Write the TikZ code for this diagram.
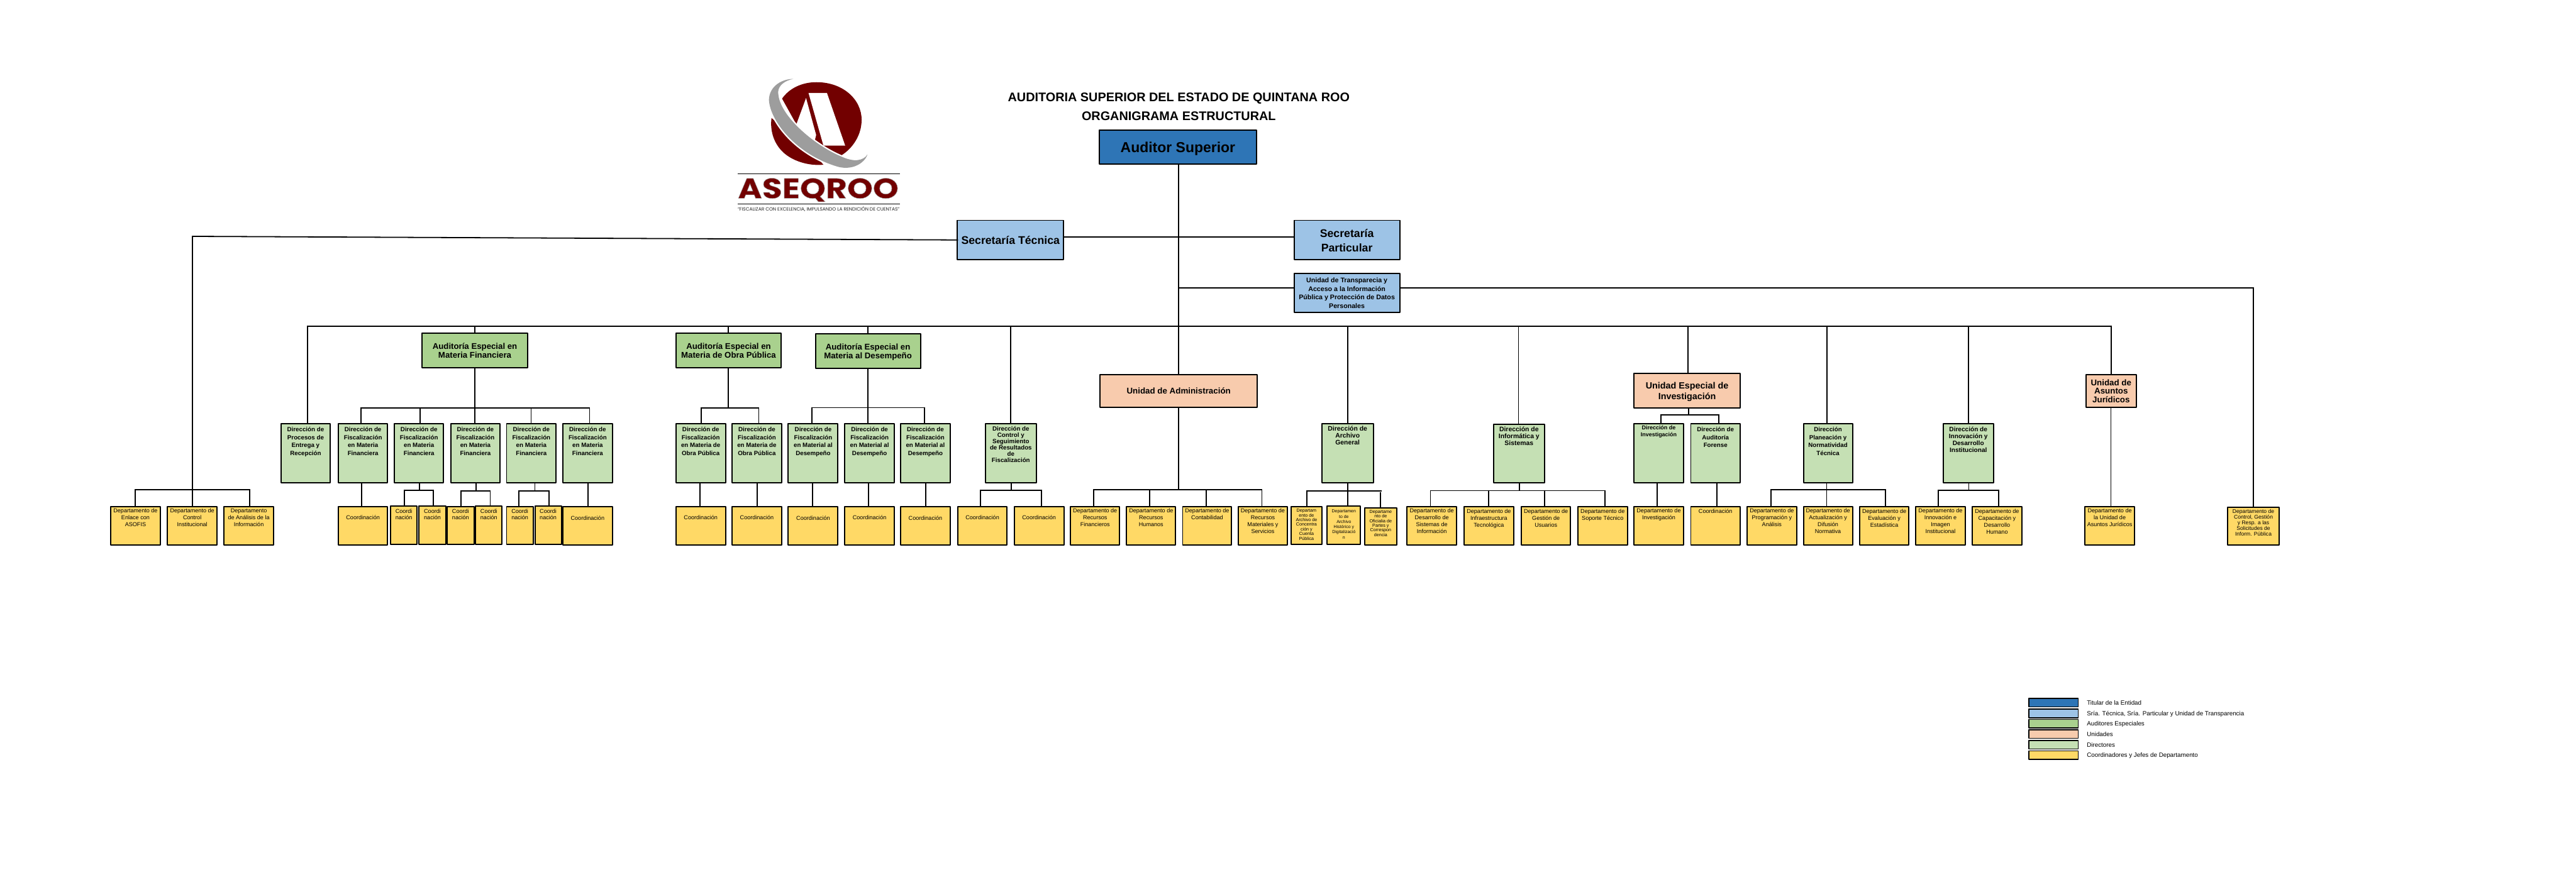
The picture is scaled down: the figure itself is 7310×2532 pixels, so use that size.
\documentclass[tikz,border=0pt]{standalone}
\usepackage{fontspec}
\setmainfont{Liberation Sans}
\newfontfamily\logofont{Poppins}
\definecolor{cblue}{HTML}{2E75B6}
\definecolor{clight}{HTML}{9DC3E6}
\definecolor{cgreen}{HTML}{A9D18E}
\definecolor{cpeach}{HTML}{F8CBAD}
\definecolor{cpale}{HTML}{C5E0B4}
\definecolor{cyel}{HTML}{FFD966}
\definecolor{logored}{HTML}{720000}
\definecolor{logogrey}{HTML}{9D9D9D}
\tikzset{
 x=0.5pt,y=0.5pt,
 boxbase/.style={draw=black,line width=1.75pt,inner sep=0pt,outer sep=0pt,line join=round,rectangle},
 bblue/.style={boxbase,fill=cblue},
 blight/.style={boxbase,fill=clight},
 bgreen/.style={boxbase,fill=cgreen},
 bpeach/.style={boxbase,fill=cpeach},
 bpale/.style={boxbase,fill=cpale},
 byel/.style={boxbase,fill=cyel},
 bleg/.style={line width=1.3pt},
 conn/.style={draw=black,line width=1.6pt,line cap=rect},
 lbl/.style={inner sep=0pt,outer sep=0pt,align=center,text=black},
 tdep/.style={lbl,font=\fontsize{8.1}{9.7}\selectfont},
 tcoi/.style={lbl,font=\fontsize{8.1}{8.5}\selectfont},
 tarc/.style={lbl,font=\fontsize{6.4}{6.6}\selectfont},
 tarb/.style={lbl,font=\fontsize{6.2}{7.35}\selectfont},
 tcg/.style={lbl,font=\fontsize{7.65}{8}\selectfont},
 tdir/.style={lbl,font=\fontsize{8.7}{11.5}\selectfont\bfseries},
 tctl/.style={lbl,font=\fontsize{8.7}{9}\selectfont\bfseries},
 tag/.style={lbl,font=\fontsize{9.3}{9.7}\selectfont\bfseries},
 tin/.style={lbl,font=\fontsize{8}{10}\selectfont\bfseries},
 tinn/.style={lbl,font=\fontsize{9}{9.8}\selectfont\bfseries},
 taud/.style={lbl,font=\fontsize{11.8}{12.5}\selectfont\bfseries},
 tunit/.style={lbl,font=\fontsize{11.9}{12.2}\selectfont\bfseries},
 tuei/.style={lbl,font=\fontsize{12.8}{15.5}\selectfont\bfseries},
 tsec/.style={lbl,font=\fontsize{15.8}{20}\selectfont\bfseries},
 ttr/.style={lbl,font=\fontsize{9.5}{12.15}\selectfont\bfseries},
 tas/.style={lbl,font=\fontsize{20.5}{24}\selectfont\bfseries},
 ttitle/.style={lbl,font=\fontsize{17.7}{20}\selectfont\bfseries},
 tleg/.style={lbl,font=\fontsize{8.75}{10}\selectfont},
}
% name x1 y1 x2 y2 boxstyle textstyle firstbaseline text
\newcommand\bx[9]{%
 \node[#6,anchor=north west,minimum width={(#4-#2)*0.5pt},minimum height={(#5-#3)*0.5pt}] (#1) at (#2,-#3) {};%
 \node[#7,anchor=north] (#1t) at ({(#2+#4)/2},{-#8+50}) {\rule{0pt}{25pt}#9};}
\newcommand\bus[4]{\coordinate (#1L) at (#3,-#2);\coordinate (#1R) at (#4,-#2);\draw[conn] (#1L) -- (#1R);}
\newcommand\dropto[3]{\coordinate (vx) at (#2,0);\draw[conn] (#1L -| vx) -- (#3.north -| vx);}
\newcommand\riser[3]{\coordinate (vx) at (#3,0);\draw[conn] (#1.south -| vx) -- (#2L -| vx);}
\newcommand\vlink[3]{\coordinate (vx) at (#3,0);\draw[conn] (#1.south -| vx) -- (#2.north -| vx);}
\begin{document}
\begin{tikzpicture}
\useasboundingbox (0,0) rectangle (7310,-2532);
% ---------- logo
\begin{scope}[xshift=1030pt,yshift=-100pt,x=0.16667pt,y=0.16667pt]
 \fill[logored] (478,-240) .. controls (540,-150) and (650,-100) .. (770,-100) .. controls (1000,-100) and (1155,-250) .. (1155,-420) .. controls (1155,-550) and (1080,-665) .. (975,-728) -- (820,-650) -- (600,-460) -- cycle;
 \fill[logored] (388,-405) .. controls (375,-500) and (400,-610) .. (480,-690) .. controls (560,-770) and (700,-815) .. (830,-803) -- (700,-650) -- (500,-500) -- cycle;
 \fill[white] (703,-192) -- (860,-192) -- (1015,-640) -- (830,-640) -- cycle;
 \fill[white] (682,-235) -- (600,-458) -- (680,-540) -- (755,-600) -- (768,-550) -- cycle;
 \filldraw[white,line width=4pt,line join=round] (575,-72) .. controls (480,-72) and (370,-130) .. (366,-250) .. controls (375,-430) and (600,-720) .. (960,-822) .. controls (1080,-850) and (1180,-790) .. (1205,-715) .. controls (1170,-770) and (1090,-785) .. (975,-730) .. controls (760,-640) and (440,-380) .. (445,-180) .. controls (447,-130) and (500,-85) .. (575,-72) -- cycle;
 \fill[logogrey] (575,-72) .. controls (480,-72) and (370,-130) .. (366,-250) .. controls (375,-430) and (600,-720) .. (960,-822) .. controls (1080,-850) and (1180,-790) .. (1205,-715) .. controls (1170,-770) and (1090,-785) .. (975,-730) .. controls (760,-640) and (440,-380) .. (445,-180) .. controls (447,-130) and (500,-85) .. (575,-72) -- cycle;
\end{scope}
\coordinate (ll1) at (2093,-494);\coordinate (lr1) at (2553,-494);
\coordinate (ll2) at (2093,-579);\coordinate (lr2) at (2553,-579);
\draw[line width=0.85pt] (ll1) -- (lr1);
\draw[line width=0.85pt] (ll2) -- (lr2);
\node[lbl,anchor=base] (logoname) at (2322,-563) {\resizebox{228pt}{28.5pt}{\logofont\bfseries\color{logored}\special{pdf:code q 2 Tr 0.12 w 0.62 0.62 0.62 RG}ASEQROO\special{pdf:code Q}}};
\node[lbl,anchor=center] (logotag) at (2323,-593) {\resizebox{229.5pt}{!}{\logofont\color{black!85}“FISCALIZAR CON EXCELENCIA, IMPULSANDO LA RENDICIÓN DE CUENTAS”}};
% ---------- title
\node[ttitle,anchor=base] (title1) at (3345,-289) {AUDITORIA SUPERIOR DEL ESTADO DE QUINTANA ROO};
\node[ttitle,anchor=base] (title2) at (3345,-341) {ORGANIGRAMA ESTRUCTURAL};
% ---------- top
\bx{as}{3119}{370}{3566}{465}{bblue}{tas}{433}{Auditor Superior}
\bx{st}{2717}{625.5}{3018}{737}{blight}{tsec}{693.5}{Secretaría Técnica}
\bx{sp}{3672}{625.5}{3972}{737}{blight}{tsec}{674}{Secretaría\\Particular}
\bx{tr}{3672}{776.5}{3972}{887}{blight}{ttr}{802.5}{Unidad de Transparecia y\\Acceso a la Información\\Pública y Protección de Datos\\Personales}
% ---------- second level
\bx{af}{1198}{945.5}{1497}{1044}{bgreen}{taud}{991.5}{Auditoría Especial en\\Materia Financiera}
\bx{ao}{1918}{945.5}{2217}{1044}{bgreen}{taud}{991.5}{Auditoría Especial en\\Materia de Obra Pública}
\bx{ad}{2314}{948}{2612}{1046.5}{bgreen}{taud}{994}{Auditoría Especial en\\Materia al Desempeño}
\bx{ua}{3121.5}{1063}{3568}{1156}{bpeach}{tunit}{1118}{Unidad de Administración}
\bx{uei}{4637}{1060.5}{4938}{1157.5}{bpeach}{tuei}{1104}{Unidad Especial de\\Investigación}
\bx{uaj}{5919}{1063}{6062.5}{1156}{bpeach}{tunit}{1094}{Unidad de\\Asuntos\\Jurídicos}
% ---------- direcciones
\bx{dpe}{797.5}{1202}{937}{1370}{bpale}{tdir}{1224.5}{Dirección de\\Procesos de\\Entrega y\\Recepción}
\bx{df1}{960}{1202}{1100}{1370}{bpale}{tdir}{1224.5}{Dirección de\\Fiscalización\\en Materia\\Financiera}
\bx{df2}{1119}{1202}{1259}{1370}{bpale}{tdir}{1224.5}{Dirección de\\Fiscalización\\en Materia\\Financiera}
\bx{df3}{1279}{1202}{1419}{1370}{bpale}{tdir}{1224.5}{Dirección de\\Fiscalización\\en Materia\\Financiera}
\bx{df4}{1437.5}{1202}{1578}{1370}{bpale}{tdir}{1224.5}{Dirección de\\Fiscalización\\en Materia\\Financiera}
\bx{df5}{1597}{1202}{1738}{1370}{bpale}{tdir}{1224.5}{Dirección de\\Fiscalización\\en Materia\\Financiera}
\bx{do1}{1918}{1202}{2059}{1370}{bpale}{tdir}{1224.5}{Dirección de\\Fiscalización\\en Materia de\\Obra Pública}
\bx{do2}{2077.5}{1202}{2218}{1370}{bpale}{tdir}{1224.5}{Dirección de\\Fiscalización\\en Materia de\\Obra Pública}
\bx{dd1}{2237}{1202}{2378}{1370}{bpale}{tdir}{1224.5}{Dirección de\\Fiscalización\\en Material al\\Desempeño}
\bx{dd2}{2397}{1202}{2538}{1370}{bpale}{tdir}{1224.5}{Dirección de\\Fiscalización\\en Material al\\Desempeño}
\bx{dd3}{2556}{1202}{2696}{1370}{bpale}{tdir}{1224.5}{Dirección de\\Fiscalización\\en Material al\\Desempeño}
\bx{dcs}{2796}{1202}{2941}{1370}{bpale}{tctl}{1222.5}{Dirección de\\Control y\\Seguimiento\\de Resultados\\de\\Fiscalización}
\bx{dag}{3751}{1202}{3897}{1370}{bpale}{tag}{1223}{Dirección de\\Archivo\\General}
\bx{dis}{4238}{1204.5}{4383}{1370}{bpale}{tag}{1225}{Dirección de\\Informática y\\Sistemas}
\bx{din}{4637}{1202}{4777}{1370}{bpale}{tin}{1220}{Dirección de\\Investigación}
\bx{dfo}{4798}{1202}{4938}{1370}{bpale}{tdir}{1224.5}{Dirección de\\Auditoría\\Forense}
\bx{dpn}{5117.5}{1202}{5257}{1370}{bpale}{tdir}{1224.5}{Dirección\\Planeación y\\Normatividad\\Técnica}
\bx{dii}{5514}{1203}{5657}{1370}{bpale}{tinn}{1224.5}{Dirección de\\Innovación y\\Desarrollo\\Institucional}
% ---------- bottom row
\bx{cci}{314}{1438}{455}{1547}{byel}{tdep}{1456}{Departamento de\\Enlace con\\ASOFIS}
\bx{cin}{475}{1438}{616}{1547}{byel}{tdep}{1456}{Departamento de\\Control\\Institucional}
\bx{cai}{636}{1438}{776}{1547}{byel}{tdep}{1456}{Departamento\\de Análisis de la\\Información}
\bx{cf1}{960}{1438}{1100}{1547}{byel}{tdep}{1474.5}{Coordinación}
\bx{cs1}{1108}{1437}{1184}{1545}{byel}{tcoi}{1457.5}{Coordi\\nación}
\bx{cs2}{1189}{1437}{1265}{1545}{byel}{tcoi}{1457.5}{Coordi\\nación}
\bx{cs3}{1269}{1438}{1345}{1546}{byel}{tcoi}{1457.5}{Coordi\\nación}
\bx{cs4}{1349.5}{1437}{1425}{1545}{byel}{tcoi}{1457.5}{Coordi\\nación}
\bx{cs5}{1437.5}{1438}{1513}{1546}{byel}{tcoi}{1457.5}{Coordi\\nación}
\bx{cs6}{1518}{1437}{1593}{1545}{byel}{tcoi}{1457.5}{Coordi\\nación}
\bx{cf5}{1597}{1438}{1738}{1547}{byel}{tdep}{1476.5}{Coordinación}
\bx{co1}{1918}{1438}{2059}{1547}{byel}{tdep}{1474.5}{Coordinación}
\bx{co2}{2077.5}{1438}{2218}{1547}{byel}{tdep}{1474.5}{Coordinación}
\bx{cd1}{2237}{1438}{2378}{1547}{byel}{tdep}{1476.5}{Coordinación}
\bx{cd2}{2397}{1438}{2538}{1547}{byel}{tdep}{1474.5}{Coordinación}
\bx{cd3}{2556}{1438}{2696}{1547}{byel}{tdep}{1476.5}{Coordinación}
\bx{cc1}{2717.5}{1438}{2858}{1547}{byel}{tdep}{1474.5}{Coordinación}
\bx{cc2}{2878}{1438}{3019}{1547}{byel}{tdep}{1474.5}{Coordinación}
\bx{ca1}{3038}{1438}{3177}{1547}{byel}{tdep}{1456}{Departamento de\\Recursos\\Financieros}
\bx{ca2}{3197}{1438}{3336}{1547}{byel}{tdep}{1456}{Departamento de\\Recursos\\Humanos}
\bx{ca3}{3356}{1438}{3495}{1547}{byel}{tdep}{1456}{Departamento de\\Contabilidad}
\bx{ca4}{3514}{1438}{3653}{1547}{byel}{tdep}{1456}{Departamento de\\Recursos\\Materiales y\\Servicios}
\bx{ch1}{3664}{1438}{3751}{1546}{byel}{tarc}{1454}{Departam\\ento de\\Archivo de\\Concentra\\ción y\\Cuenta\\Pública}
\bx{ch2}{3766}{1437}{3861}{1545}{byel}{tarb}{1456}{Departamen\\to de\\Archivo\\Histórico y\\Digitalizació\\n}
\bx{ch3}{3873}{1442}{3963}{1548}{byel}{tarc}{1457}{Departame\\nto de\\Oficialia de\\Partes y\\Correspon\\dencia}
\bx{ci1}{3993}{1438}{4133}{1547}{byel}{tdep}{1456}{Departamento de\\Desarrollo de\\Sistemas de\\Información}
\bx{ci2}{4155}{1438}{4295}{1547}{byel}{tdep}{1457}{Departamento de\\Infraestructura\\Tecnológica}
\bx{ci3}{4317}{1438}{4457}{1547}{byel}{tdep}{1457}{Departamento de\\Gestión de\\Usuarios}
\bx{ci4}{4477.5}{1438}{4618}{1547}{byel}{tdep}{1457}{Departamento de\\Soporte Técnico}
\bx{ce1}{4637}{1438}{4777}{1547}{byel}{tdep}{1456}{Departamento de\\Investigación}
\bx{ce2}{4798}{1438}{4938}{1547}{byel}{tdep}{1457}{Coordinación}
\bx{cp1}{4958}{1438}{5098}{1547}{byel}{tdep}{1456}{Departamento de\\Programación y\\Análisis}
\bx{cp2}{5117.5}{1438}{5257}{1547}{byel}{tdep}{1456}{Departamento de\\Actualización y\\Difusión\\Normativa}
\bx{cp3}{5277}{1438}{5417}{1547}{byel}{tdep}{1457}{Departamento de\\Evaluación y\\Estadística}
\bx{cv1}{5436}{1438}{5577}{1547}{byel}{tdep}{1456}{Departamento de\\Innovación e\\Imagen\\Institucional}
\bx{cv2}{5597}{1438}{5737}{1547}{byel}{tdep}{1457}{Departamento de\\Capacitación y\\Desarrollo\\Humano}
\bx{cj}{5916.5}{1438.5}{6057}{1547}{byel}{tdep}{1456}{Departamento de\\la Unidad de\\Asuntos Jurídicos}
\bx{cg}{6322}{1439.5}{6467}{1547}{byel}{tcg}{1458}{Departamento de\\Control, Gestión\\y Resp. a las\\Solicitudes de\\Inform. Pública}
% ---------- connectors: main bus
\bus{M}{926}{873}{5990.5}
\riser{as}{M}{3345}
\dropto{M}{873}{dpe}
\dropto{M}{1347}{af}
\dropto{M}{2067}{ao}
\dropto{M}{2463}{ad}
\dropto{M}{2868}{dcs}
\dropto{M}{3345}{ua}
\dropto{M}{3824}{dag}
\dropto{M}{4309}{dis}
\dropto{M}{4790}{uei}
\dropto{M}{5184}{dpn}
\dropto{M}{5586}{dii}
\dropto{M}{5990.5}{uaj}
% secretarias
\coordinate (ysec) at (3345,-673);
\draw[conn] (st.east |- ysec) -- (sp.west |- ysec);
\coordinate (ytr) at (3345,-817);
\draw[conn] (ytr) -- (tr.west |- ytr);
\coordinate (trc) at (6395,-817);
\draw[conn] (tr.east |- ytr) -- (trc) -- (cg.north -| trc);
\coordinate (stc) at (546,-671);
\draw[conn] (st.west) -- (stc) -- (cin.north -| stc);
\bus{T}{1390}{383}{708}
\dropto{T}{383}{cci}
\dropto{T}{708}{cai}
% AF
\bus{F}{1158.5}{1024}{1673}
\riser{af}{F}{1347}
\dropto{F}{1024}{df1}
\dropto{F}{1192}{df2}
\dropto{F}{1347}{df3}
\dropto{F}{1507}{df4}
\dropto{F}{1673}{df5}
\vlink{df1}{cf1}{1026}
\vlink{df5}{cf5}{1668}
\bus{Fa}{1392}{1147}{1230}
\riser{df2}{Fa}{1191}
\dropto{Fa}{1147}{cs1}
\dropto{Fa}{1230}{cs2}
\bus{Fb}{1394}{1308}{1391}
\riser{df3}{Fb}{1351}
\dropto{Fb}{1308}{cs3}
\dropto{Fb}{1391}{cs4}
\bus{Fc}{1394}{1473}{1558}
\riser{df4}{Fc}{1518}
\dropto{Fc}{1473}{cs5}
\dropto{Fc}{1558}{cs6}
% AO
\bus{O}{1158.5}{1989.5}{2153}
\riser{ao}{O}{2067}
\dropto{O}{1989.5}{do1}
\dropto{O}{2153}{do2}
\vlink{do1}{co1}{1987}
\vlink{do2}{co2}{2149}
% AD
\bus{D}{1157.5}{2304}{2624}
\riser{ad}{D}{2463}
\dropto{D}{2304}{dd1}
\dropto{D}{2463}{dd2}
\dropto{D}{2624}{dd3}
\vlink{dd1}{cd1}{2306}
\vlink{dd2}{cd2}{2465}
\vlink{dd3}{cd3}{2627.5}
% control
\bus{C}{1392}{2782.5}{2955}
\riser{dcs}{C}{2869}
\dropto{C}{2782.5}{cc1}
\dropto{C}{2955}{cc2}
% admin
\bus{A}{1390}{3103}{3581}
\riser{ua}{A}{3344}
\dropto{A}{3103}{ca1}
\dropto{A}{3263}{ca2}
\dropto{A}{3423}{ca3}
\dropto{A}{3581}{ca4}
% archivo
\bus{H}{1394}{3708}{3920}
\riser{dag}{H}{3824}
\dropto{H}{3708}{ch1}
\dropto{H}{3824}{ch2}
\coordinate (hg) at (3917,-1399);
\draw[conn] (hg) -- (ch3.north -| hg);
% informatica
\bus{I}{1393}{4059}{4555}
\riser{dis}{I}{4311.5}
\dropto{I}{4059}{ci1}
\dropto{I}{4224.5}{ci2}
\dropto{I}{4383}{ci3}
\dropto{I}{4555}{ci4}
% unidad especial
\bus{E}{1177.5}{4713}{4877}
\riser{uei}{E}{4792}
\dropto{E}{4713}{din}
\dropto{E}{4877}{dfo}
\vlink{din}{ce1}{4703}
\vlink{dfo}{ce2}{4871.5}
% planeacion
\bus{P}{1390}{5025.5}{5350}
\riser{dpn}{P}{5183.5}
\dropto{P}{5025.5}{cp1}
\dropto{P}{5183.5}{cp2}
\dropto{P}{5350}{cp3}
% innovacion
\bus{V}{1392}{5500}{5671}
\riser{dii}{V}{5587}
\dropto{V}{5500}{cv1}
\dropto{V}{5671}{cv2}
% juridicos
\vlink{uaj}{cj}{5990}
% ---------- legend
\node[bblue,bleg,anchor=north west,minimum width=70pt,minimum height=12pt] (lg1) at (5757,-1983) {};
\node[blight,bleg,anchor=north west,minimum width=70pt,minimum height=12.5pt] (lg2) at (5757,-2013) {};
\node[bgreen,bleg,anchor=north west,minimum width=70pt,minimum height=12pt] (lg3) at (5757,-2043) {};
\node[bpeach,bleg,anchor=north west,minimum width=70pt,minimum height=12pt] (lg4) at (5757,-2072) {};
\node[bpale,bleg,anchor=north west,minimum width=70pt,minimum height=12pt] (lg5) at (5757,-2102) {};
\node[byel,bleg,anchor=north west,minimum width=70pt,minimum height=12pt] (lg6) at (5757,-2132) {};
\node[tleg,anchor=base west] (lt1) at (5922,-2002) {Titular de la Entidad};
\node[tleg,anchor=base west] (lt2) at (5922,-2032) {Sría. Técnica, Sría. Particular y Unidad de Transparencia};
\node[tleg,anchor=base west] (lt3) at (5922,-2061) {Auditores Especiales};
\node[tleg,anchor=base west] (lt4) at (5922,-2091) {Unidades};
\node[tleg,anchor=base west] (lt5) at (5922,-2121) {Directores};
\node[tleg,anchor=base west] (lt6) at (5922,-2150) {Coordinadores y Jefes de Departamento};
\end{tikzpicture}
\end{document}
